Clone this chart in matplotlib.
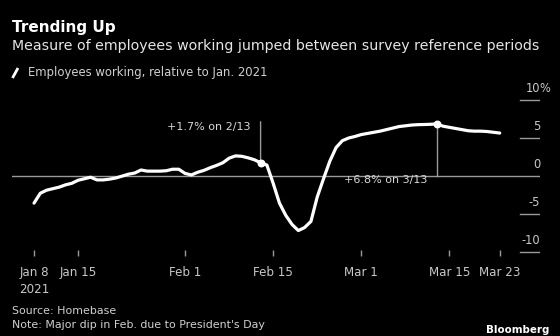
import matplotlib
matplotlib.use("Agg")
import matplotlib.pyplot as plt
import matplotlib.dates as mdates
from matplotlib.lines import Line2D
import pandas as pd

# daily values, Jan 8 2021 -> Mar 23 2021 (% relative to Jan. 2021)
start_date = "2021-01-08"
employees_working = [
    -3.6, -2.3, -1.9, -1.7, -1.5, -1.2, -1.0, -0.6, -0.4, -0.2,
    -0.55, -0.55, -0.45, -0.3, -0.05, 0.2, 0.35, 0.75, 0.6, 0.6,
    0.6, 0.65, 0.85, 0.85, 0.3, 0.1, 0.45, 0.7, 1.05, 1.35,
    1.7, 2.3, 2.6, 2.55, 2.35, 2.1, 1.7, 1.4, -1.0, -3.6,
    -5.2, -6.4, -7.2, -6.8, -6.0, -2.8, -0.4, 1.9, 3.7, 4.6,
    4.95, 5.15, 5.4, 5.55, 5.7, 5.85, 6.05, 6.25, 6.45, 6.55,
    6.65, 6.7, 6.72, 6.75, 6.8, 6.5, 6.35, 6.2, 6.05, 5.9,
    5.85, 5.85, 5.8, 5.7, 5.6,
]
dates = pd.date_range(start_date, periods=len(employees_working), freq="D")

highlight_dates = ["2021-02-13", "2021-03-13"]
highlight_labels = ["+1.7% on 2/13", "+6.8% on 3/13"]

xtick_dates = ["2021-01-08", "2021-01-15", "2021-02-01", "2021-02-15",
               "2021-03-01", "2021-03-15", "2021-03-23"]
xtick_labels = ["Jan 8\n2021", "Jan 15", "Feb 1", "Feb 15", "Mar 1", "Mar 15", "Mar 23"]
ytick_values = [10, 5, 0, -5, -10]

series = pd.Series(employees_working, index=dates)

W, H = 560, 336
fig = plt.figure(figsize=(W / 100, H / 100), dpi=100, facecolor="black")
plt.rcParams["font.family"] = ["DejaVu Sans"]

grey = "#9a9a9a"
label_col = "#c8c8c8"

# axes placed by pixel box: left 12, right 540, top 99, bottom 256
ax = fig.add_axes([12 / W, 1 - 256 / H, 528 / W, 157 / H])
ax.set_facecolor("black")
for s in ax.spines.values():
    s.set_visible(False)

day0 = mdates.date2num(pd.Timestamp(start_date))
ax.set_xlim(day0 - 3.5, day0 + 80.4)
ax.set_ylim(-10.54, 10.07)

ax.axhline(0, color=grey, lw=1, zorder=1)
for v in ytick_values:
    if v != 0:
        ax.axhline(v, xmin=0.963, xmax=1.0, color=grey, lw=1)
    ax.annotate(str(v), xy=(1.0, v), xycoords=("axes fraction", "data"),
                xytext=(0, 5), textcoords="offset pixels",
                ha="right", va="bottom", color=label_col, fontsize=8.3)
ax.annotate("%", xy=(1.0, ytick_values[0]), xycoords=("axes fraction", "data"),
            xytext=(-1, 5), textcoords="offset pixels",
            ha="left", va="bottom", color=label_col, fontsize=8.3)

ax.plot(series.index, series.values, color="white", lw=2.3,
        solid_capstyle="round", solid_joinstyle="round", zorder=3)

# highlighted points
h1 = pd.Timestamp(highlight_dates[0])
h2 = pd.Timestamp(highlight_dates[1])
v1 = series[h1]
v2 = series[h2]
ax.annotate("", xy=(h1, v1), xytext=(0, 41), textcoords="offset pixels",
            arrowprops=dict(arrowstyle="-", color=grey, lw=1,
                            shrinkA=0, shrinkB=0))
ax.annotate(highlight_labels[0], xy=(h1, v1), xytext=(-10, 36),
            textcoords="offset pixels", ha="right", va="center",
            color="#d8d8d8", fontsize=8.0)
ax.plot([h2, h2], [0, v2], color=grey, lw=1, zorder=2)
ax.annotate(highlight_labels[1], xy=(h2, 0), xytext=(-9, -4),
            textcoords="offset pixels", ha="right", va="center",
            color="#d8d8d8", fontsize=8.0)
ax.scatter([h1, h2], [v1, v2], s=22, color="white", zorder=4)

ax.set_xticks([mdates.date2num(pd.Timestamp(d)) for d in xtick_dates])
ax.set_xticklabels(xtick_labels, color=label_col, fontsize=8.6, linespacing=1.45)
ax.tick_params(axis="x", direction="in", length=4, width=1, color=grey, pad=7)
ax.set_yticks([])

# titles
fig.text(12 / W, 1 - 27.5 / H, "Trending Up", color="white", fontsize=11,
         fontweight="bold", va="center", ha="left")
fig.text(12 / W, 1 - 46 / H,
         "Measure of employees working jumped between survey reference periods",
         color="#e6e6e6", fontsize=10.2, va="center", ha="left")
fig.add_artist(Line2D([12.5 / W, 18 / W], [1 - 78 / H, 1 - 68 / H],
                      color="white", lw=2, solid_capstyle="butt"))
fig.text(28 / W, 1 - 72.5 / H, "Employees working, relative to Jan. 2021",
         color="#d0d0d0", fontsize=8.4, va="center", ha="left")

fig.text(12 / W, 1 - 311.5 / H, "Source: Homebase", color="#d0d0d0",
         fontsize=7.9, va="center", ha="left")
fig.text(12 / W, 1 - 325.5 / H, "Note: Major dip in Feb. due to President's Day",
         color="#d0d0d0", fontsize=7.9, va="center", ha="left")
fig.text(549 / W, 1 - 330 / H, "Bloomberg", color="white", fontsize=7.4,
         fontweight="bold", va="center", ha="right")

fig.savefig("out.png", dpi=100, facecolor="black")
